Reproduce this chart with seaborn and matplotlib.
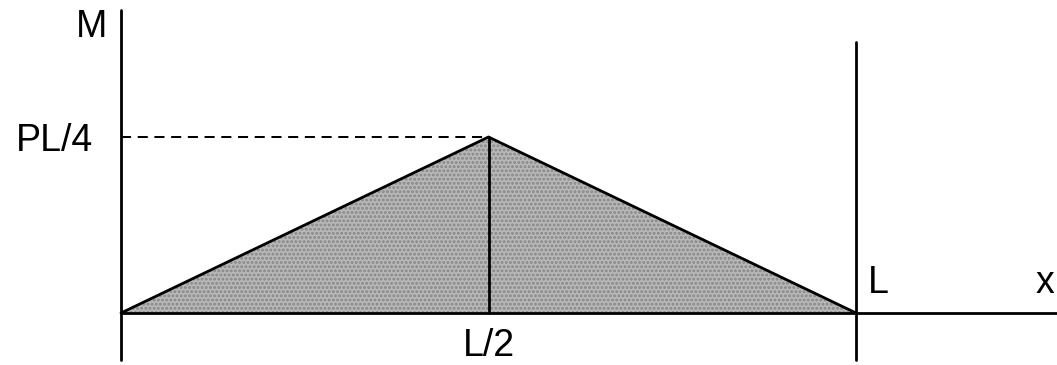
import matplotlib
matplotlib.use('Agg')
import matplotlib.pyplot as plt
import seaborn as sns
import pandas as pd

# bending moment diagram, simply supported beam with central load P
# x in units of L, M in units of PL/4
x_points = [0.0, 0.5, 1.0]
m_points = [0.0, 1.0, 0.0]
peak_label = 'PL/4'
mid_label = 'L/2'
end_label = 'L'
axis_labels = ['M', 'x']

sns.set_style('white')
plt.rcParams['font.family'] = ['Liberation Sans', 'DejaVu Sans']
plt.rcParams['text.color'] = 'black'
plt.rcParams['hatch.linewidth'] = 1.4

df = pd.DataFrame({'x': x_points, 'M': m_points})

fig = plt.figure(figsize=(10.57, 3.65), dpi=100)
ax = fig.add_axes([0, 0, 1, 1])
ax.set_xlim(-121 / 735, (1057 - 121) / 735)
ax.set_ylim(-(365 - 313) / 176, 313 / 176)
ax.axis('off')

lw = 2.0
# shaded moment area
ax.fill_between(df['x'], df['M'], 0, facecolor='#b8b8b8', edgecolor='#858585',
                hatch='....', linewidth=0, zorder=1)
sns.lineplot(data=df, x='x', y='M', color='black', linewidth=lw, ax=ax,
             zorder=3, sort=False)

# axes lines
ax.plot([0, 0], [-0.267, 1.722], color='black', lw=lw, zorder=3)
ax.plot([x_points[-1], x_points[-1]], [-0.267, 1.54], color='black', lw=lw, zorder=3)
ax.plot([0, 2], [0, 0], color='black', lw=lw, zorder=3)

# peak marker lines
peak_x = x_points[1]
peak_m = m_points[1]
ax.plot([peak_x, peak_x], [0, peak_m], color='black', lw=lw, zorder=3)
ax.plot([0, peak_x], [peak_m, peak_m], color='black', lw=1.45,
        linestyle=(0, (5, 3.3)), zorder=3)

fs = 27
ax.text(-0.019, 1.625, axis_labels[0], fontsize=fs, ha='right', va='center')
ax.text(-0.038, 0.98, peak_label, fontsize=fs, ha='right', va='center')
ax.text(peak_x, -0.19, mid_label, fontsize=fs, ha='center', va='center')
ax.text(1.016, 0.17, end_label, fontsize=fs, ha='left', va='center')
ax.text(1.245, 0.17, axis_labels[1], fontsize=fs, ha='left', va='center')

fig.savefig('out.png', dpi=100)
